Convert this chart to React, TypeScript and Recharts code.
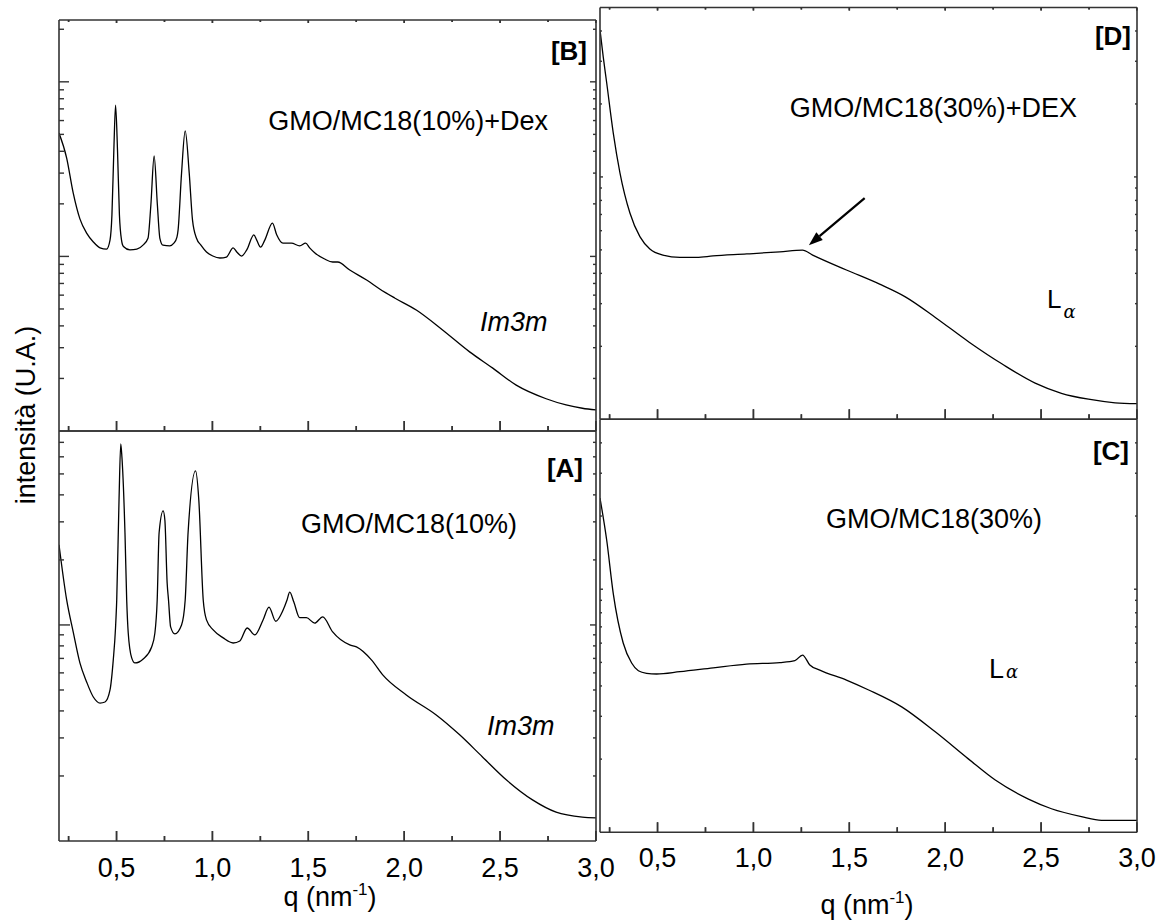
import React from 'react';
import { LineChart, Line, XAxis, YAxis, ReferenceLine } from 'recharts';

const FONT = '"Liberation Sans", Arial, Helvetica, sans-serif';
const W = 1169;
const H = 921;
const AX = '#333333';
const AXS = 1; // axis box size (px) used by every axis

// q (nm^-1) tick positions, shared by all panels
const qTicks = [0.25, 0.5, 0.75, 1, 1.25, 1.5, 1.75, 2, 2.25, 2.5, 2.75, 3];

// Panel B: GMO/MC18(10%)+Dex
const qB = [0.2, 0.24, 0.274, 0.309, 0.344, 0.379, 0.414, 0.448, 0.466, 0.476, 0.486, 0.495, 0.505, 0.515, 0.526, 0.536, 0.57, 0.606, 0.638, 0.664, 0.679, 0.696, 0.713, 0.726, 0.742, 0.778, 0.799, 0.815, 0.821, 0.839, 0.858, 0.879, 0.896, 0.917, 0.94, 0.969, 1.002, 1.039, 1.073, 1.108, 1.127, 1.152, 1.179, 1.216, 1.231, 1.251, 1.273, 1.313, 1.335, 1.368, 1.412, 1.455, 1.486, 1.507, 1.533, 1.585, 1.627, 1.653, 1.716, 1.804, 1.872, 1.95, 2.063, 2.2, 2.341, 2.46, 2.584, 2.74, 2.844, 2.929, 3.0];
const iB = [50.9, 36.6, 23.1, 16.4, 13.6, 12.1, 11.2, 11.0, 12.4, 17.3, 40.7, 73.6, 40.7, 17.3, 12.4, 11.4, 10.9, 11.0, 11.6, 12.7, 19.7, 37.6, 19.7, 12.7, 11.6, 11.5, 11.9, 12.9, 14.2, 30.0, 52.3, 30.0, 16.2, 12.7, 11.6, 10.6, 10.05, 9.79, 9.92, 11.2, 10.6, 10.05, 10.9, 13.3, 12.4, 11.3, 12.4, 15.5, 13.3, 11.9, 11.9, 11.5, 11.9, 11.2, 10.5, 9.66, 9.29, 9.29, 8.36, 7.32, 6.51, 5.78, 4.93, 3.79, 2.84, 2.3, 1.83, 1.53, 1.41, 1.35, 1.32];
const yTicksB = [2, 3, 4, 5, 6, 7, 8, 9, 10, 20, 30, 40, 50, 60, 70, 80, 90, 100, 200];

// Panel A: GMO/MC18(10%)
const qA = [0.2, 0.24, 0.274, 0.309, 0.344, 0.379, 0.414, 0.44, 0.466, 0.483, 0.495, 0.501, 0.513, 0.522, 0.528, 0.544, 0.553, 0.561, 0.579, 0.596, 0.639, 0.683, 0.7, 0.712, 0.722, 0.743, 0.752, 0.764, 0.771, 0.782, 0.804, 0.839, 0.858, 0.873, 0.912, 0.929, 0.952, 0.969, 1.004, 1.056, 1.108, 1.143, 1.181, 1.221, 1.264, 1.295, 1.33, 1.368, 1.389, 1.403, 1.424, 1.455, 1.49, 1.533, 1.575, 1.627, 1.716, 1.751, 1.829, 1.888, 2.011, 2.167, 2.289, 2.408, 2.532, 2.669, 2.792, 2.929, 3.0];
const iA = [23.5, 13.05, 9.28, 6.67, 5.45, 4.64, 4.35, 4.4, 5.0, 6.89, 9.79, 13.05, 37.9, 68.9, 60.0, 26.7, 13.05, 9.18, 7.04, 6.67, 6.96, 7.91, 9.18, 13.05, 26.7, 33.7, 30.6, 15.6, 13.05, 9.79, 9.09, 10.0, 13.05, 26.7, 51.6, 37.9, 13.05, 10.55, 9.48, 8.71, 8.25, 8.43, 9.68, 8.99, 10.55, 12.1, 10.4, 11.7, 13.05, 14.2, 12.8, 10.8, 10.8, 10.2, 10.9, 9.28, 8.08, 7.91, 6.89, 5.87, 4.74, 3.83, 3.1, 2.45, 1.92, 1.55, 1.36, 1.29, 1.28];
const yTicksA = [2, 3, 4, 5, 6, 7, 8, 9, 10, 20, 30, 40, 50, 60, 70];

// Panel D: GMO/MC18(30%)+DEX
const qD = [0.2, 0.217, 0.235, 0.269, 0.304, 0.356, 0.408, 0.46, 0.528, 0.617, 0.704, 0.789, 0.965, 1.138, 1.256, 1.309, 1.485, 1.658, 1.792, 1.952, 2.125, 2.297, 2.469, 2.606, 2.747, 2.886, 3.0];
const iD = [40.4, 31.2, 24.4, 15.2, 10.4, 7.1, 5.67, 5.04, 4.76, 4.66, 4.66, 4.72, 4.81, 4.91, 4.99, 4.76, 4.13, 3.61, 3.2, 2.62, 2.08, 1.69, 1.41, 1.28, 1.21, 1.17, 1.16];
const yTicksD = [2, 3, 4, 5, 6, 7, 8, 9, 10, 20, 30, 40];

// Panel C: GMO/MC18(30%)
const qC = [0.2, 0.235, 0.269, 0.321, 0.365, 0.4, 0.443, 0.495, 0.617, 0.79, 0.964, 1.138, 1.216, 1.256, 1.294, 1.346, 1.485, 1.601, 1.773, 1.948, 2.122, 2.261, 2.434, 2.554, 2.71, 2.815, 3.0];
const iC = [23.7, 15.9, 9.62, 6.01, 4.97, 4.62, 4.51, 4.48, 4.58, 4.75, 4.92, 4.99, 5.08, 5.36, 4.88, 4.65, 4.23, 3.85, 3.28, 2.59, 2.0, 1.64, 1.37, 1.25, 1.16, 1.12, 1.12];
const yTicksC = [2, 3, 4, 5, 6, 7, 8, 9, 10, 20, 30, 40];

// arrow in panel D (q, intensity)
const arrowD = [{ x: 1.58, y: 8.18 }, { x: 1.289, y: 5.23 }];

const zip = (q: number[], v: number[]) => q.map((x, i) => ({ q: x, v: v[i] }));

const fmtQ = (v: number) => v.toFixed(1).replace('.', ',');
const isMajorQ = (v: number) => Math.abs(v * 2 - Math.round(v * 2)) < 1e-6;
const isMajorLog = (v: number) => {
  const l = Math.log10(v);
  return Math.abs(l - Math.round(l)) < 1e-6;
};

// short vertical tick segments along an edge (value, and log factors for major/minor length)
const edgeTicks = (edge: number, fMaj: number, fMin: number, up: boolean) => {
  const out: { q: number; v: number | null }[] = [];
  qTicks.forEach((t) => {
    const f = isMajorQ(t) ? fMaj : fMin;
    out.push({ q: t, v: edge }, { q: t, v: up ? edge * f : edge / f }, { q: t, v: null });
  });
  return out;
};

type TO = { dir: number; major: number; minor: number };

const yTick = (o: TO) => (props: any) => {
  const { x, y, payload } = props;
  const maj = isMajorLog(payload.value);
  const len = maj ? o.major : o.minor;
  if (len <= 0) return <g />;
  const x0 = o.dir > 0 ? x : x - len;
  return <rect x={x0} y={y - 0.7} width={len} height={1.4} fill={AX} />;
};

// vertical reference line at a q tick, drawn as short inward tick marks (bottom/top) + label
const qTickShape = (q: number, bottomLen: [number, number], topLen: [number, number], labelDy?: number) => (p: any) => {
  const x = Number(p.x1);
  const yb = Math.max(Number(p.y1), Number(p.y2));
  const yt = Math.min(Number(p.y1), Number(p.y2));
  const maj = isMajorQ(q);
  const lb = maj ? bottomLen[0] : bottomLen[1];
  const lt = maj ? topLen[0] : topLen[1];
  return (
    <g>
      {lb > 0 && <rect x={x - 0.75} y={yb - lb} width={1.5} height={lb} fill={AX} />}
      {lt > 0 && <rect x={x - 0.75} y={yt} width={1.5} height={lt} fill={AX} />}
      {labelDy != null && maj && (
        <text x={x} y={yb + labelDy} textAnchor="middle" fontFamily={FONT} fontSize={27} fill="#000">
          {fmtQ(q)}
        </text>
      )}
    </g>
  );
};

const arrowShape = (p: any) => {
  const { x1, y1, x2, y2 } = p;
  const dx = x2 - x1;
  const dy = y2 - y1;
  const len = Math.sqrt(dx * dx + dy * dy) || 1;
  const ux = dx / len;
  const uy = dy / len;
  const hl = 14;
  const hw = 5;
  const bx = x2 - ux * hl;
  const by = y2 - uy * hl;
  return (
    <g>
      <line x1={x1} y1={y1} x2={bx} y2={by} stroke="#000" strokeWidth={2.2} />
      <polygon
        points={`${x2},${y2} ${bx - uy * hw},${by + ux * hw} ${bx + uy * hw},${by - ux * hw}`}
        fill="#000"
      />
    </g>
  );
};

type Rect = { left: number; top: number; right: number; bottom: number };

type PanelProps = {
  data: { q: number; v: number }[];
  plot: Rect; // plot-area edges in page pixels
  yDomain: [number, number];
  yTicks: number[];
  bottomLen: [number, number]; // [major, minor] inward tick length (px)
  topLen: [number, number];
  labelDy?: number;
  left: TO;
  right: TO;
  arrow?: { x: number; y: number }[];
};

function Panel(p: PanelProps) {
  const axisLine = { stroke: AX, strokeWidth: 1.6 };
  const margin = {
    top: p.plot.top - AXS,
    left: p.plot.left - AXS,
    right: W - p.plot.right - AXS,
    bottom: H - p.plot.bottom - AXS,
  };
  // pixels per decade of the log axis -> factors for tick-mark segments
  const [y0, y1] = p.yDomain;
  const pxPerDec = (p.plot.bottom - p.plot.top) / Math.log10(y1 / y0);
  const fac = (px: number) => Math.pow(10, px / pxPerDec);
  const bottomSeg = edgeTicks(y0, fac(p.bottomLen[0]), fac(p.bottomLen[1]), true);
  const topSeg = p.topLen[0] > 0 ? edgeTicks(y1, fac(p.topLen[0]), fac(p.topLen[1]), false) : null;
  return (
    <div style={{ position: 'absolute', left: 0, top: 0 }}>
      <LineChart width={W} height={H} data={p.data} margin={margin}>
        <XAxis xAxisId="b" dataKey="q" type="number" domain={[0.2, 3]} allowDataOverflow height={AXS}
          axisLine={axisLine} tickLine={false} tick={false} />
        <XAxis xAxisId="t" orientation="top" dataKey="q" type="number" domain={[0.2, 3]} allowDataOverflow height={AXS}
          axisLine={axisLine} tickLine={false} tick={false} />
        <YAxis yAxisId="l" type="number" scale="log" domain={p.yDomain} ticks={p.yTicks} interval={0}
          allowDataOverflow axisLine={axisLine} tickLine={false} tickSize={0} tickMargin={0} width={AXS}
          tick={yTick(p.left)} />
        <YAxis yAxisId="r" orientation="right" type="number" scale="log" domain={p.yDomain} ticks={p.yTicks} interval={0}
          allowDataOverflow axisLine={axisLine} tickLine={false} tickSize={0} tickMargin={0} width={AXS}
          tick={yTick(p.right)} />
        {qTicks.map((q) => (
          <ReferenceLine key={q} xAxisId="b" yAxisId="l" x={q} ifOverflow="visible"
            shape={qTickShape(q, p.bottomLen, p.topLen, p.labelDy)} />
        ))}
        <Line xAxisId="b" yAxisId="l" data={bottomSeg} dataKey="v" type="linear" stroke={AX} strokeWidth={1.5}
          dot={false} activeDot={false} connectNulls={false} isAnimationActive={false} />
        {topSeg && (
          <Line xAxisId="b" yAxisId="l" data={topSeg} dataKey="v" type="linear" stroke={AX} strokeWidth={1.5}
            dot={false} activeDot={false} connectNulls={false} isAnimationActive={false} />
        )}
        <Line xAxisId="b" yAxisId="l" dataKey="v" type="monotone" stroke="#000" strokeWidth={1.3}
          dot={false} isAnimationActive={false} />
        {p.arrow && (
          <ReferenceLine xAxisId="b" yAxisId="l" segment={p.arrow} shape={arrowShape} ifOverflow="visible" />
        )}
      </LineChart>
    </div>
  );
}

const txt = { fontFamily: FONT, fill: '#000' } as const;

function QTitle({ x, y }: { x: number; y: number }) {
  return (
    <text x={x} y={y} textAnchor="middle" fontSize={27} {...txt}>
      q (nm<tspan dy={-11} fontSize={17}>-1</tspan><tspan dy={11}>)</tspan>
    </text>
  );
}

function LAlpha({ x, y, size, sub }: { x: number; y: number; size: number; sub: number }) {
  return (
    <text x={x} y={y} fontSize={size} {...txt}>
      L<tspan dx={2} dy={sub} fontSize={18} fontStyle="italic" fontFamily='"DejaVu Serif", "Liberation Serif", serif'>α</tspan>
    </text>
  );
}

export default function App() {
  return (
    <div style={{ position: 'absolute', left: 0, top: 0, width: W, height: H, background: '#fff' }}>
      <Panel data={zip(qB, iB)} plot={{ left: 59, top: 20, right: 596, bottom: 431 }}
        yDomain={[1, 226]} yTicks={yTicksB}
        bottomLen={[10, 5]} topLen={[3, 2]}
        left={{ dir: 1, major: 10, minor: 5 }} right={{ dir: -1, major: 6, minor: 3 }} />
      <Panel data={zip(qA, iA)} plot={{ left: 59, top: 431, right: 596, bottom: 841 }}
        yDomain={[1, 79]} yTicks={yTicksA}
        bottomLen={[10, 5]} topLen={[0, 0]} labelDy={35.5}
        left={{ dir: 1, major: 11, minor: 5 }} right={{ dir: -1, major: 6, minor: 3 }} />
      <Panel data={zip(qD, iD)} plot={{ left: 600, top: 7.5, right: 1137, bottom: 419.3 }}
        yDomain={[1, 50]} yTicks={yTicksD} arrow={arrowD}
        bottomLen={[10, 5]} topLen={[3, 2]}
        left={{ dir: 1, major: 3, minor: 2 }} right={{ dir: -1, major: 3, minor: 2 }} />
      <Panel data={zip(qC, iC)} plot={{ left: 600, top: 419.3, right: 1137, bottom: 832.3 }}
        yDomain={[1, 50]} yTicks={yTicksC}
        bottomLen={[10, 5]} topLen={[0, 0]} labelDy={34.5}
        left={{ dir: 1, major: 3, minor: 2 }} right={{ dir: -1, major: 3, minor: 2 }} />

      <svg width={W} height={H} style={{ position: 'absolute', left: 0, top: 0, pointerEvents: 'none' }}>
        <text x={34.5} y={415} textAnchor="middle" fontSize={27} transform="rotate(-90, 34.5, 415)" {...txt}>
          intensità (U.A.)
        </text>
        <QTitle x={330} y={906} />
        <QTitle x={867} y={914} />

        <text x={587} y={60} textAnchor="end" fontSize={26} fontWeight="bold" {...txt}>[B]</text>
        <text x={548} y={130} textAnchor="end" fontSize={27} {...txt}>GMO/MC18(10%)+Dex</text>
        <text x={480} y={331} fontSize={27} fontStyle="italic" {...txt}>Im3m</text>

        <text x={583} y={477} textAnchor="end" fontSize={26} fontWeight="bold" {...txt}>[A]</text>
        <text x={517} y={533} textAnchor="end" fontSize={27} {...txt}>GMO/MC18(10%)</text>
        <text x={487} y={735} fontSize={27} fontStyle="italic" {...txt}>Im3m</text>

        <text x={1131} y={45} textAnchor="end" fontSize={26} fontWeight="bold" {...txt}>[D]</text>
        <text x={1077} y={117} textAnchor="end" fontSize={27} {...txt}>GMO/MC18(30%)+DEX</text>
        <LAlpha x={1047} y={308} size={26} sub={10} />

        <text x={1129} y={460} textAnchor="end" fontSize={26} fontWeight="bold" {...txt}>[C]</text>
        <text x={1042} y={528} textAnchor="end" fontSize={27} {...txt}>GMO/MC18(30%)</text>
        <LAlpha x={989} y={678} size={27} sub={0} />
      </svg>
    </div>
  );
}
